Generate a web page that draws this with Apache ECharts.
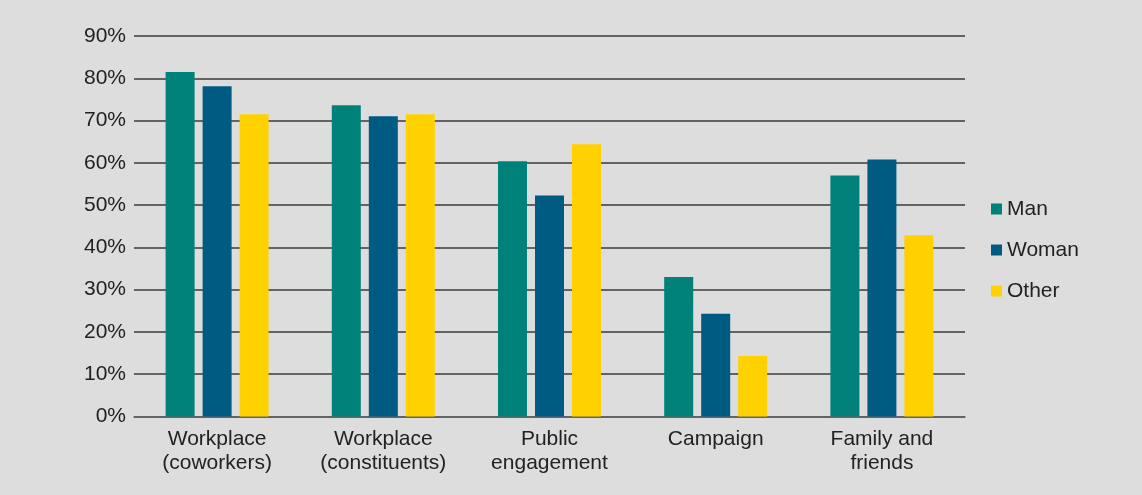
<!DOCTYPE html>
<html>
<head>
<meta charset="utf-8">
<script src="https://cdn.jsdelivr.net/npm/echarts@6/dist/echarts.min.js"></script>
<style>
  html, body { margin: 0; padding: 0; background: #dddddd; }
  #chart { width: 1142px; height: 495px; }
</style>
</head>
<body>
<div id="chart"></div>
<script>
// Share of respondents by setting and gender (%)
const categories = [
  'Workplace\n(coworkers)',
  'Workplace\n(constituents)',
  'Public\nengagement',
  'Campaign',
  'Family and\nfriends'
];
const man   = [81.5, 73.6, 60.4, 33.0, 57.0];
const woman = [78.1, 71.0, 52.3, 24.3, 60.8];
const other = [71.5, 71.5, 64.4, 14.3, 42.9];
const seriesNames = ['Man', 'Woman', 'Other'];
const seriesColors = ['#00827a', '#005b82', '#ffd100'];

const font = 'Liberation Sans, Arial, Helvetica, sans-serif';
const chart = echarts.init(document.getElementById('chart'), null, { renderer: 'canvas' });

const makeBar = (name, data, color) => ({
  name: name,
  type: 'bar',
  data: data,
  barWidth: 29,
  barGap: '27.6%',
  itemStyle: { color: color },
  emphasis: { disabled: true }
});

chart.setOption({
  backgroundColor: '#dddddd',
  animation: false,
  textStyle: { fontFamily: font },
  grid: { left: 134, right: 177, top: 36, bottom: 78.5 },
  legend: {
    orient: 'vertical',
    left: 991,
    top: 198.5,
    padding: 0,
    itemWidth: 11,
    itemHeight: 11,
    itemGap: 20,
    icon: 'rect',
    textStyle: { fontFamily: font, fontSize: 21, color: '#222', lineHeight: 21 },
    data: seriesNames
  },
  xAxis: {
    type: 'category',
    data: categories,
    axisTick: { show: false },
    axisLine: { show: true, lineStyle: { color: '#666', width: 1.5 } },
    axisLabel: {
      fontFamily: font,
      fontSize: 21,
      color: '#222',
      lineHeight: 24,
      margin: 11,
      interval: 0
    }
  },
  yAxis: {
    type: 'value',
    min: 0,
    max: 90,
    interval: 10,
    axisLine: { show: false },
    axisTick: { show: false },
    splitLine: { lineStyle: { color: '#3a3a3a', width: 1.5 } },
    axisLabel: {
      fontFamily: font,
      fontSize: 21,
      color: '#222',
      margin: 8,
      formatter: '{value}%'
    }
  },
  series: [
    makeBar(seriesNames[0], man, seriesColors[0]),
    makeBar(seriesNames[1], woman, seriesColors[1]),
    makeBar(seriesNames[2], other, seriesColors[2])
  ]
});
</script>
</body>
</html>
